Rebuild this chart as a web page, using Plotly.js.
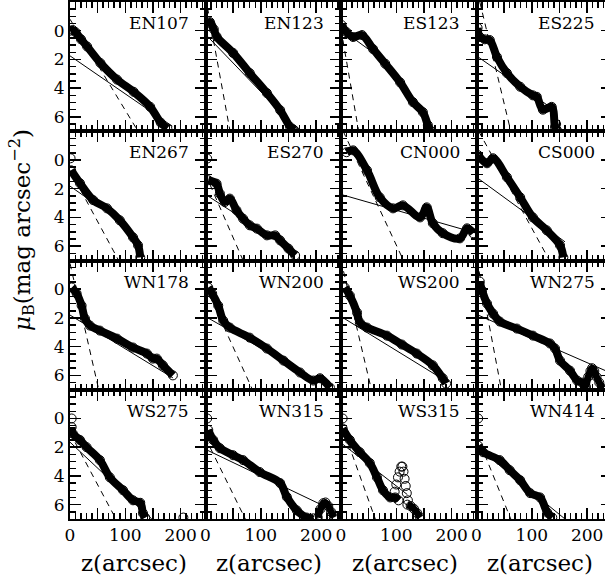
<!DOCTYPE html>
<html><head><meta charset="utf-8">
<script src="https://cdn.plot.ly/plotly-3.0.1.min.js"></script>
<style>html,body{margin:0;padding:0;overflow:hidden;background:#fff}</style>
</head><body><div id="plot"></div>
<script>
// Panel names, row by row
const panels = ['EN107','EN123','ES123','ES225','EN267','ES270','CN000','CS000',
                'WN178','WN200','WS200','WN275','WS275','WN315','WS315','WN414'];

// Surface-brightness profiles (z in arcsec, mu_B in mag arcsec^-2)
const EN107_z  = [0,5,10,20,31,55,85,115,145,164,176];
const EN107_mu = [0.0,-0.05,0.1,0.6,1.1,2.25,3.4,4.25,5.3,6.4,6.8];
const EN123_z  = [2,8,15,20,50,80,111,135,153,160];
const EN123_mu = [-0.5,-0.6,-0.1,0.4,1.55,2.95,4.34,5.53,6.7,6.95];
const ES123_z  = [1,10,22,38,58,80,107,130,148,157,161];
const ES123_mu = [-0.4,0.1,0.44,0.3,1.28,2.3,3.6,4.97,5.67,6.57,6.92];
const ES225_z  = [2,6,15,24,37,55,79,102,109,120,136,142,145];
const ES225_mu = [-0.2,0.44,0.6,0.65,1.83,2.95,3.9,4.5,4.6,5.5,5.3,6.7,6.9];
const EN267_z  = [2,18,42,67,90,114,123,127];
const EN267_mu = [0.72,1.62,2.8,3.37,4.2,5.39,5.94,6.78];
const ES270_z  = [5,20,26,35,44,56,68,80,93,111,126,135,150,162];
const ES270_mu = [1.41,1.65,2.34,2.93,2.69,3.5,4.09,4.55,4.78,5.25,5.25,5.6,6.17,6.64];
const CN000_z  = [10,22,47,70,94,112,143,155,166,184,215,228,239];
const CN000_mu = [-0.54,-0.67,0.72,2.6,3.37,3.16,4.0,3.3,4.4,5.1,5.46,4.76,5.1];
const CS000_z  = [3,19,30,55,79,102,127,151,157];
const CS000_mu = [-0.33,0.23,-0.12,1.2,2.6,4.0,4.9,5.94,6.78];
const WN178_z  = [3,12,21,27,36,54,85,114,139,150,157,168,186];
const WN178_mu = [-0.12,0.3,1.14,2.04,2.53,2.88,3.44,4.06,4.48,4.83,4.83,5.3,6.0];
const WN200_z  = [5,12,23,32,44,80,111,141,171,195,207,225];
const WN200_mu = [-0.12,0.3,1.14,2.18,2.67,3.37,4.13,4.97,5.8,6.36,6.2,6.85];
const WS200_z  = [7,16,29,34,47,83,110,137,166,184,190];
const WS200_mu = [-0.12,0.44,1.62,2.32,2.67,3.23,3.85,4.48,5.3,6.2,6.57];
const WN275_z  = [6,10,19,30,42,73,102,133,142,151,169,182,191,196];
const WN275_mu = [-0.53,0.09,1.0,1.7,2.25,2.74,3.23,3.78,4.13,4.97,5.67,6.36,6.5,6.9];
const WS275_z  = [3,5,18,30,54,72,96,114,127,132,136];
const WS275_mu = [0.6,1.05,1.5,2.0,2.9,4.1,5.0,5.7,5.87,6.6,6.9];
const WN315_z  = [5,14,26,50,68,98,135,147,165,183,195];
const WN315_mu = [0.8,1.5,2.07,2.56,2.9,3.73,4.5,5.46,6.4,6.9,6.95];
const WS315_z  = [3,16,34,52,65,76,89,98,104];
const WS315_mu = [0.7,1.5,2.35,3.1,4.1,5.0,5.5,5.5,5.7];
const WN414_z  = [3,12,42,60,79,97,115,128,137];
const WN414_mu = [1.9,2.35,2.9,3.6,4.3,5.2,5.5,6.55,6.9];

// Outer bumps drawn as dense profile segments (panel index, z, mu)
const bumpP  = [11,11,11,11,11,11,11,11, 13,13,13,13,13,13,13, 14,14,14,14,14];
const bumpZ  = [198,202,206,209,213,217,222,228, 203,208,213,217,222,227,232, 120,126,132,138,143];
const bumpMu = [6.8,6.1,5.7,5.5,5.7,6.1,6.5,6.9, 6.9,6.3,5.9,5.85,6.1,6.5,6.9, 6.0,6.1,6.3,6.6,6.9];

// Isolated circles (panel index, z, mu)
const looseP  = [4,5,12,12,13,14,14,14,14,14,14,14,14,14,14,14,14,15,3,3,1,1];
const looseZ  = [1,3,3,205,3,3,97,100,103,106,109,111,113,115,117,119,121,3,144,145,158,161];
const looseMu = [-0.12,-0.1,0.0,6.9,0.0,0.0,5.1,4.6,4.1,3.7,3.35,3.35,3.7,4.2,4.7,5.2,5.7,0.0,6.5,6.95,6.85,6.95];

// Fitted components: solid (disk) and dashed (inner) lines, start/end points
const solidZ0  = [0,0,0,0,0,0,0,0,0,0,0,0,0,0,0,0];
const solidMu0 = [1.75,0.25,-0.1,1.75,1.82,2.4,2.4,1.2,1.8,1.9,1.9,1.75,1.65,2.15,1.7,1.95];
const solidZ1  = [185,165,50,140,110,160,245,160,186,225,190,245,148,245,120,160];
const solidMu1 = [6.65,6.85,1.3,5.5,4.8,6.4,5.1,5.7,6.17,6.85,6.4,5.87,7.0,6.66,5.3,7.0];
const dashZ0   = [0,0,0,6,0,0,4,4,0,0,0,1,0,0,0,0];
const dashMu0  = [-0.8,-2.37,-0.1,-2.0,0.72,1.0,-2.0,-2.0,-1.8,-0.2,-2.0,-2.0,1.0,1.37,0.33,1.1];
const dashZ1   = [123,44.4,32,62,88,68,113,132,52,85,55,45,83,72,62,62];
const dashMu1  = [7,7,7,7,7,7,7,7,7,7,7,7,7,7,7,7];

// Axis ticks
const xRange = [0,245];
const yRange = [7,-2];
const yTickVals = [0,2,4,6];
const yTickText = ['0','2','4','6'];

const profZ = [EN107_z,EN123_z,ES123_z,ES225_z,EN267_z,ES270_z,CN000_z,CS000_z,WN178_z,WN200_z,WS200_z,WN275_z,WS275_z,WN315_z,WS315_z,WN414_z];
const profMu = [EN107_mu,EN123_mu,ES123_mu,ES225_mu,EN267_mu,ES270_mu,CN000_mu,CS000_mu,WN178_mu,WN200_mu,WS200_mu,WN275_mu,WS275_mu,WN315_mu,WS315_mu,WN414_mu];

const FONT = 'DejaVu Serif';
const traces = [];
const layout = {
  width: 612, height: 585,
  margin: {l:70, r:0, t:2, b:66},
  paper_bgcolor: '#fff', plot_bgcolor: '#fff',
  showlegend: false,
  font: {family: FONT, color: '#000', size: 17},
  annotations: []
};

const circ = {symbol:'circle-open', size:9, color:'#000', line:{width:1}};
function pick(P, Z, M, i) {
  const z = [], m = [];
  P.forEach((p, j) => { if (p === i) { z.push(Z[j]); m.push(M[j]); } });
  return [z, m];
}

panels.forEach((name, i) => {
  const r = Math.floor(i/4), c = i % 4, k = i + 1;
  const xa = 'x' + k, ya = 'y' + k;
  traces.push({x:[solidZ0[i], solidZ1[i]], y:[solidMu0[i], solidMu1[i]], xaxis:xa, yaxis:ya,
    mode:'lines', line:{color:'#000', width:1}, hoverinfo:'skip'});
  traces.push({x:[dashZ0[i], dashZ1[i]], y:[dashMu0[i], dashMu1[i]], xaxis:xa, yaxis:ya,
    mode:'lines', line:{color:'#000', width:1, dash:'6px,5px'}, hoverinfo:'skip'});
  traces.push({x:profZ[i], y:profMu[i], xaxis:xa, yaxis:ya, mode:'lines+markers',
    line:{color:'#000', width:8, shape:'spline'}, marker:circ});
  const [bz, bm] = pick(bumpP, bumpZ, bumpMu, i);
  if (bz.length) traces.push({x:bz, y:bm, xaxis:xa, yaxis:ya, mode:'lines+markers',
    line:{color:'#000', width:7, shape:'spline'}, marker:circ});
  const [lz, lm] = pick(looseP, looseZ, looseMu, i);
  if (lz.length) traces.push({x:lz, y:lm, xaxis:xa, yaxis:ya, mode:'markers', marker:circ});

  const axBase = {showline:true, linewidth:2, linecolor:'#000', mirror:'allticks',
    ticks:'inside', tickwidth:1.5, tickcolor:'#000', ticklen:11, showgrid:false, zeroline:false,
    tickfont:{family:FONT, size:17, color:'#000'}, fixedrange:true};
  layout['xaxis' + (k===1?'':k)] = Object.assign({}, axBase, {
    domain:[c/4, (c+1)/4], anchor:ya, range:xRange,
    tickmode:'linear', tick0:0, dtick:50, ticklabelstep:2,
    minor:{tick0:0, dtick:10, ticks:'inside', ticklen:6, tickwidth:1.5, tickcolor:'#000', showgrid:false},
    showticklabels: r === 3
  });
  layout['yaxis' + (k===1?'':k)] = Object.assign({}, axBase, {
    domain:[1-(r+1)/4, 1-r/4], anchor:xa, range:yRange,
    tickmode:'array', tickvals:yTickVals, ticktext:yTickText,
    minor:{tick0:0, dtick:0.5, ticks:'inside', ticklen:6, tickwidth:1.5, tickcolor:'#000', showgrid:false},
    showticklabels: c === 0
  });
  layout.annotations.push({xref:xa + ' domain', yref:ya + ' domain', x:0.89, y:0.837,
    xanchor:'right', yanchor:'middle', text:name, showarrow:false,
    font:{family:FONT, size:17, color:'#000'}});
  if (r === 3) layout.annotations.push({xref:xa + ' domain', yref:'paper', x:0.47, y:-0.085,
    xanchor:'center', yanchor:'middle', text:'z(arcsec)', showarrow:false,
    font:{family:FONT, size:23, color:'#000'}});
});
layout.annotations.push({xref:'paper', yref:'paper', x:-0.0886, y:0.559, xanchor:'center', yanchor:'middle',
  textangle:-90, showarrow:false, text:'<i>μ</i><sub>B</sub>(mag arcsec<sup>−2</sup>)',
  font:{family:FONT, size:23, color:'#000'}});

Plotly.newPlot('plot', traces, layout, {staticPlot:true});
</script></body></html>
